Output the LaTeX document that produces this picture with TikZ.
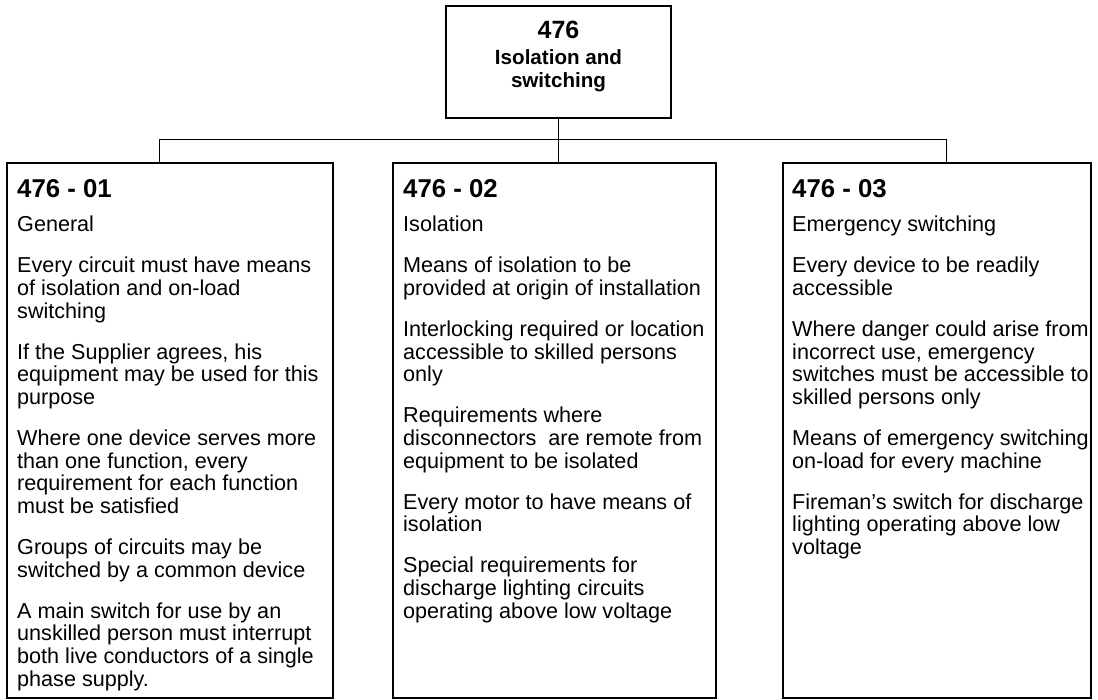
\documentclass[tikz,border=0pt]{standalone}
\usepackage{fontspec}
\setmainfont{Liberation Sans}
\begin{document}
\begin{tikzpicture}[x=1pt,y=-1pt,
  boxstyle/.style={draw=black,line width=1.3pt,rectangle,inner sep=0pt},
  link/.style={draw=black,line width=1pt},
  headtext/.style={anchor=base west,inner sep=0pt,font=\fontsize{25.8}{28}\selectfont\bfseries},
  bodytext/.style={anchor=north west,inner sep=0pt,align=left,font=\fontsize{21.6}{22.7}\selectfont},
  toptext/.style={inner sep=0pt,align=center,anchor=base,font=\fontsize{20.6}{23}\selectfont\bfseries}
]
\useasboundingbox (0,0) rectangle (1098,700);
% boxes
\node[boxstyle,minimum width=225pt,minimum height=112pt] (top) at (558.5,62) {};
\node[boxstyle,minimum width=326pt,minimum height=535pt] (c1) at (170,430.5) {};
\node[boxstyle,minimum width=323pt,minimum height=535pt] (c2) at (554.5,430.5) {};
\node[boxstyle,minimum width=308pt,minimum height=535pt] (c3) at (937,430.5) {};
% top text
\node[toptext,font=\fontsize{25}{28}\selectfont\bfseries] (tnum) at (558.5,39) {476};
\node[toptext] (ttitle) at (558.5,87.5) {Isolation and\\switching};
% connectors
\coordinate (hl) at (159,140);
\coordinate (hr) at (946,140);
\draw[link] (top.south) -- (top.south |- c2.north);
\draw[link] (hl |- c1.north) -- (hl) -- (hr) -- (hr |- c3.north);
% column 1
\node[headtext] (h1) at (17,198) {476 - 01};
\node[bodytext] (b1) at (17,215.6) {\strut General\\[18.3pt]
Every circuit must have means\\of isolation and on-load\\switching\\[18.3pt]
If the Supplier agrees, his\\equipment may be used for this\\purpose\\[18.3pt]
Where one device serves more\\than one function, every\\requirement for each function\\must be satisfied\\[18.3pt]
Groups of circuits may be\\switched by a common device\\[18.3pt]
A main switch for use by an\\unskilled person must interrupt\\both live conductors of a single\\phase supply.};
% column 2
\node[headtext] (h2) at (403,198) {476 - 02};
\node[bodytext] (b2) at (403,215.6) {\strut Isolation\\[18.3pt]
Means of isolation to be\\provided at origin of installation\\[18.3pt]
Interlocking required or location\\accessible to skilled persons\\only\\[18.3pt]
Requirements where\\disconnectors~ are remote from\\equipment to be isolated\\[18.3pt]
Every motor to have means of\\isolation\\[18.3pt]
Special requirements for\\discharge lighting circuits\\operating above low voltage};
% column 3
\node[headtext] (h3) at (792,198) {476 - 03};
\node[bodytext] (b3) at (792,215.6) {\strut Emergency switching\\[18.3pt]
Every device to be readily\\accessible\\[18.3pt]
Where danger could arise from\\incorrect use, emergency\\switches must be accessible to\\skilled persons only\\[18.3pt]
Means of emergency switching\\on-load for every machine\\[18.3pt]
Fireman’s switch for discharge\\lighting operating above low\\voltage};
\end{tikzpicture}
\end{document}
